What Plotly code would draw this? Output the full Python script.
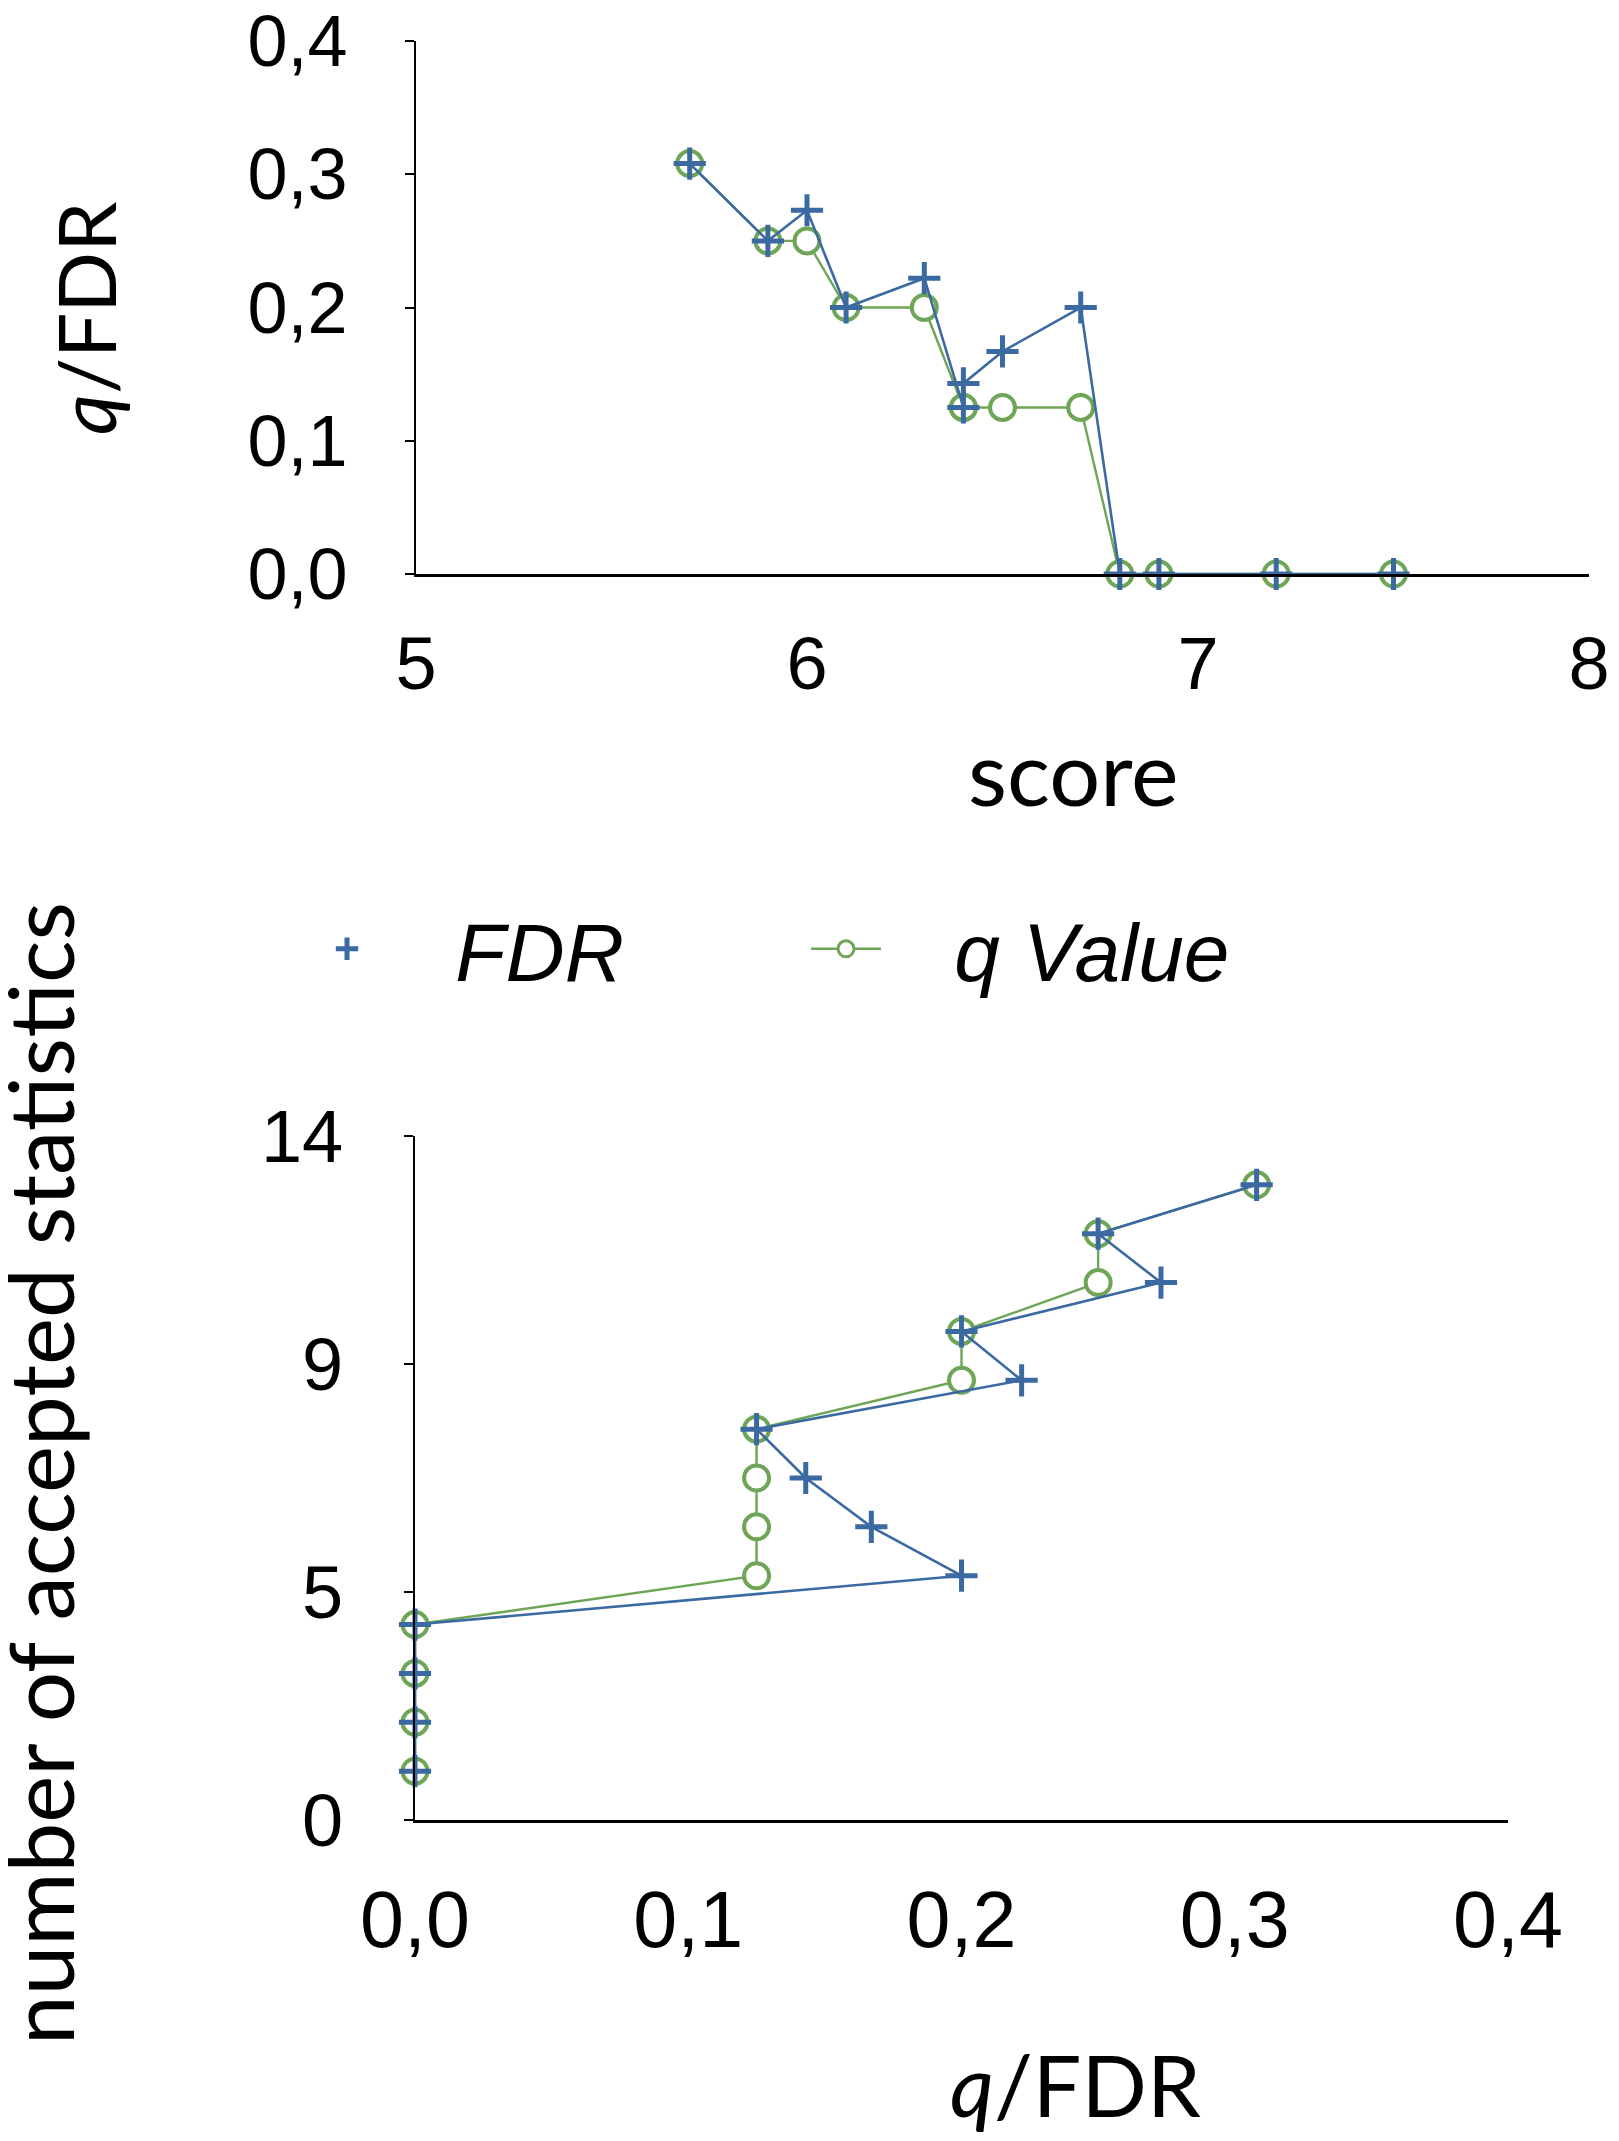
import plotly.graph_objects as go

# ---- data ----
score = [5.7, 5.9, 6.0, 6.1, 6.3, 6.4, 6.4, 6.5, 6.7, 6.8, 6.9, 7.2, 7.5]
fdr = [0.308, 0.25, 0.273, 0.2, 0.222, 0.125, 0.143, 0.167, 0.2, 0.0, 0.0, 0.0, 0.0]
qval = [0.308, 0.25, 0.25, 0.2, 0.2, 0.125, 0.125, 0.125, 0.125, 0.0, 0.0, 0.0, 0.0]
n_accepted = [13, 12, 11, 10, 9, 8, 7, 6, 5, 4, 3, 2, 1]

top_x_ticks = [5, 6, 7, 8]
top_y_ticks = [0.0, 0.1, 0.2, 0.3, 0.4]
top_y_labels = ["0,0", "0,1", "0,2", "0,3", "0,4"]
bot_x_ticks = [0.0, 0.1, 0.2, 0.3, 0.4]
bot_x_labels = ["0,0", "0,1", "0,2", "0,3", "0,4"]
bot_y_ticks = [0, 14 / 3, 28 / 3, 14]
bot_y_labels = ["0", "5", "9", "14"]

BLUE = "#3B69A2"
GREEN = "#6EA556"
W, H = 1619, 2141

def px_x(p):
    return p / W

def px_y(p):
    return 1 - p / H

fig = go.Figure()

q_marker = dict(symbol="circle", size=25, color="white", line=dict(color=GREEN, width=4))
f_marker = dict(symbol="cross-thin", size=23, line=dict(color=BLUE, width=5), color=BLUE)

# top chart
fig.add_trace(go.Scatter(x=score, y=qval, mode="lines+markers", name="q Value",
                         line=dict(color=GREEN, width=2.4), marker=q_marker,
                         cliponaxis=False, xaxis="x", yaxis="y", showlegend=False))
fig.add_trace(go.Scatter(x=score, y=fdr, mode="lines+markers", name="FDR",
                         line=dict(color=BLUE, width=2.6), marker=f_marker,
                         cliponaxis=False, xaxis="x", yaxis="y", showlegend=False))
# bottom chart
fig.add_trace(go.Scatter(x=qval, y=n_accepted, mode="lines+markers", name="q Value",
                         line=dict(color=GREEN, width=2.4), marker=q_marker,
                         cliponaxis=False, xaxis="x2", yaxis="y2", showlegend=False))
fig.add_trace(go.Scatter(x=fdr, y=n_accepted, mode="lines+markers", name="FDR",
                         line=dict(color=BLUE, width=2.6), marker=f_marker,
                         cliponaxis=False, xaxis="x2", yaxis="y2", showlegend=False))

# legend entries (legend-only traces)
SP = "\u00a0\u00a0\u00a0"
fig.add_trace(go.Scatter(x=[None], y=[None], mode="markers", name=SP + "FDR",
                         marker=dict(symbol="cross-thin", size=16, color=BLUE,
                                     line=dict(color=BLUE, width=5)),
                         xaxis="x", yaxis="y", showlegend=True, legendrank=1))
fig.add_trace(go.Scatter(x=[None], y=[None], mode="lines+markers", name=SP + "q Value",
                         line=dict(color=GREEN, width=2.4),
                         marker=dict(symbol="circle", size=16, color="white",
                                     line=dict(color=GREEN, width=3)),
                         xaxis="x", yaxis="y", showlegend=True, legendrank=2))

tickfont = dict(family="Liberation Sans, Arial, sans-serif", size=74, color="black")
title_font = dict(family="Lato, sans-serif", size=86, color="black")

fig.update_layout(
    width=W, height=H, autosize=False,
    margin=dict(l=0, r=0, t=0, b=0, autoexpand=False),
    paper_bgcolor="white", plot_bgcolor="white",
    xaxis=dict(domain=[px_x(408), px_x(1581)], range=[5, 8], tickvals=top_x_ticks,
               showgrid=False, zeroline=False, showline=True, linecolor="black", linewidth=3,
               ticks="", tickfont=tickfont, ticklabelstandoff=23, anchor="y",
               ticklabeloverflow="allow"),
    yaxis=dict(domain=[px_y(566), px_y(33)], range=[0, 0.4], tickvals=top_y_ticks,
               ticktext=top_y_labels, showgrid=False, zeroline=False, showline=True,
               linecolor="black", linewidth=2, ticks="outside", ticklen=9, tickwidth=2,
               tickcolor="black", tickfont=dict(tickfont, size=72), ticklabelstandoff=43,
               anchor="x", ticklabeloverflow="allow"),
    xaxis2=dict(domain=[px_x(407), px_x(1500)], range=[0, 0.4], tickvals=bot_x_ticks,
                ticktext=bot_x_labels, showgrid=False, zeroline=False, showline=True,
                linecolor="black", linewidth=3, ticks="", tickfont=dict(tickfont, size=79),
                ticklabelstandoff=29, anchor="y2", ticklabeloverflow="allow"),
    yaxis2=dict(domain=[px_y(1812), px_y(1128)], range=[0, 14], tickvals=bot_y_ticks,
                ticktext=bot_y_labels, showgrid=False, zeroline=False, showline=True,
                linecolor="black", linewidth=2, ticks="outside", ticklen=9, tickwidth=2,
                tickcolor="black", tickfont=tickfont, ticklabelstandoff=46, anchor="x2",
                ticklabeloverflow="allow"),
    legend=dict(orientation="h", x=px_x(299), y=px_y(941), xanchor="left", yanchor="middle",
                font=dict(family="Liberation Sans, Arial, sans-serif", size=82,
                          color="black", style="italic"),
                entrywidth=414, entrywidthmode="pixels", itemwidth=70,
                bgcolor="rgba(0,0,0,0)", traceorder="normal"),
    showlegend=True,
)

fig.add_annotation(text="score", x=px_x(1065), y=px_y(763), xref="paper", yref="paper",
                   showarrow=False, font=dict(title_font, size=90),
                   xanchor="center", yanchor="middle")
fig.add_annotation(text="<i>q</i>/FDR", x=px_x(77), y=px_y(311), xref="paper", yref="paper",
                   showarrow=False, font=dict(title_font, size=80), textangle=-90,
                   xanchor="center", yanchor="middle")
fig.add_annotation(text="<i>q</i>/FDR", x=px_x(1067), y=px_y(2075), xref="paper", yref="paper",
                   showarrow=False, font=title_font, xanchor="center", yanchor="middle")
fig.add_annotation(text="number of accepted statistics", x=px_x(31), y=px_y(1466),
                   xref="paper", yref="paper", showarrow=False,
                   font=dict(title_font, size=89), textangle=-90,
                   xanchor="center", yanchor="middle")

fig.write_html("out.html")
